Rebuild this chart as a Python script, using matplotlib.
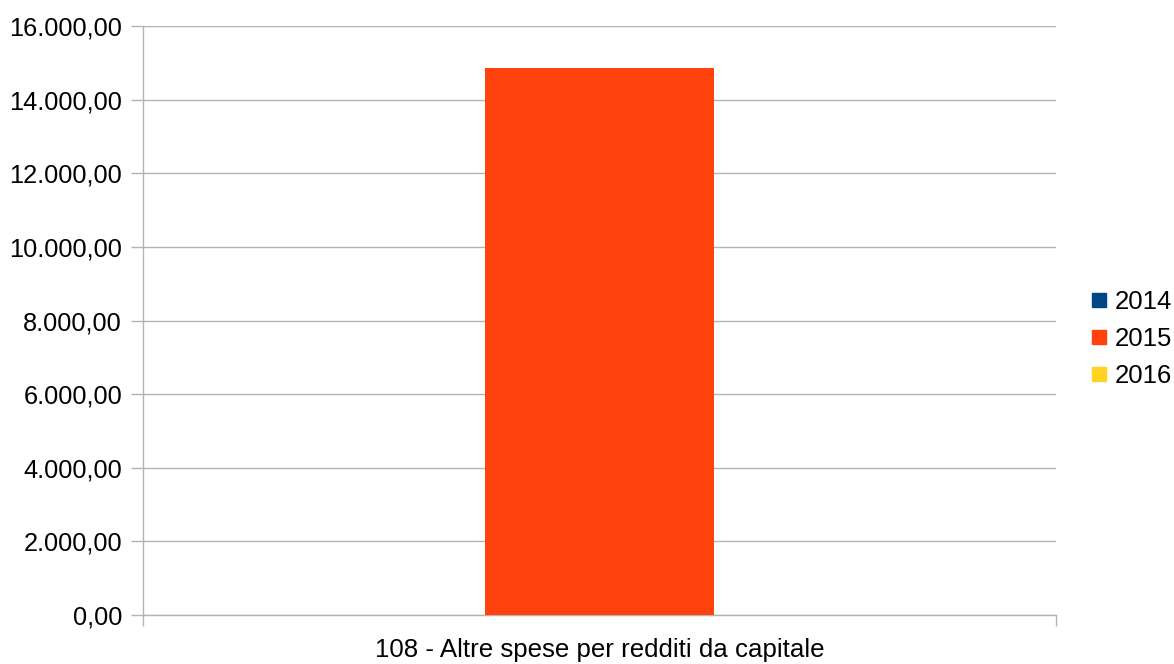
import matplotlib
matplotlib.use("Agg")
import matplotlib.pyplot as plt
from matplotlib.ticker import FuncFormatter, FixedLocator
from matplotlib.lines import Line2D

categories = ["108 - Altre spese per redditi da capitale"]
series_names = ["2014", "2015", "2016"]
values_2014 = [0]
values_2015 = [14860]
values_2016 = [0]
colors = ["#004586", "#ff420e", "#ffd320"]

plt.rcParams['font.family'] = ['Liberation Sans', 'DejaVu Sans']

W, H = 1174, 664
fig = plt.figure(figsize=(W / 100, H / 100), dpi=100)
ax = fig.add_axes([143 / W, (H - 615) / H, (1056 - 143) / W, (615 - 26) / H])

series = [values_2014, values_2015, values_2016]
bw = 0.25
for i, (vals, c) in enumerate(zip(series, colors)):
    xs = [j + (i - 1) * bw for j in range(len(categories))]
    ax.bar(xs, vals, width=bw, color=c, label=series_names[i], zorder=3)

ax.set_xlim(-0.5, len(categories) - 0.5)
ax.set_ylim(0, 16000)
ax.set_yticks(range(0, 16001, 2000))

def fmt(v, pos):
    s = f"{v:,.2f}"
    return s.replace(",", "X").replace(".", ",").replace("X", ".")

ax.yaxis.set_major_formatter(FuncFormatter(fmt))
ax.grid(axis='y', color='#b3b3b3', linewidth=1, zorder=0)

ax.set_xticks(range(len(categories)))
ax.set_xticklabels(categories)
ax.xaxis.set_minor_locator(FixedLocator([k - 0.5 for k in range(len(categories) + 1)]))
ax.tick_params(axis='x', which='major', length=0, labelsize=18.6, pad=16.5)
ax.tick_params(axis='x', which='minor', length=8, color='#b3b3b3', width=1)
ax.tick_params(axis='y', length=8.6, color='#b3b3b3', width=1, labelsize=18.3, pad=6.5)

for s in ['top', 'right']:
    ax.spines[s].set_visible(False)
for s in ['left', 'bottom']:
    ax.spines[s].set_color('#b3b3b3')
    ax.spines[s].set_linewidth(1)

handles = [Line2D([0], [0], marker='s', linestyle='none', markersize=10.5,
                  markerfacecolor=c, markeredgecolor=c) for c in colors]
fig.legend(handles, series_names, loc='center left',
           bbox_to_anchor=(1090.8 / W, 1 - 339 / H), frameon=False,
           fontsize=18.5, handlelength=0.6, handletextpad=0.34, labelspacing=0.5,
           borderpad=0, borderaxespad=0)

fig.savefig("out.png", dpi=100)
